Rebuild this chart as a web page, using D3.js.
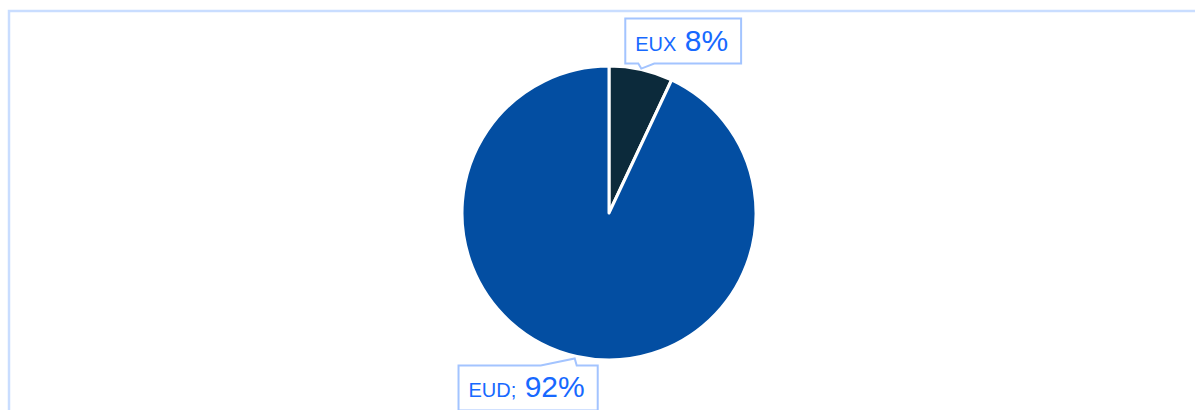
<!DOCTYPE html>
<meta charset="utf-8">
<style>
body { margin: 0; background: #fff; }
svg { display: block; font-family: "Liberation Sans", Arial, sans-serif; }
</style>
<svg width="1195" height="410"></svg>
<script src="https://d3js.org/d3.v7.min.js"></script>
<script>
"use strict";

// data
var names = ["EUX", "EUD"];
var shares = [7, 93];            // slice sizes as drawn
var pctLabels = ["8%", "92%"];   // labels as printed
var separators = ["", ";"];
var colors = ["#0c2a3b", "#034ea2"];

var svg = d3.select("svg"),
    width = +svg.attr("width"),
    height = +svg.attr("height");

// frame (only top + left edges visible)
svg.append("path")
  .attr("d", "M9,410 V11 H1195")
  .attr("fill", "none")
  .attr("stroke", "#c9ddff")
  .attr("stroke-width", 2.5);

var cx = 609, cy = 213, r = 147;

var pie = d3.pie().sort(null).value(function(d) { return d; });
var arc = d3.arc().innerRadius(0).outerRadius(r);
var arcs = pie(shares);

var g = svg.append("g").attr("transform", "translate(" + cx + "," + cy + ")");

g.selectAll("path.slice")
  .data(arcs)
  .enter().append("path")
    .attr("class", "slice")
    .attr("d", arc)
    .attr("fill", function(d, i) { return colors[i]; })
    .attr("stroke", "#fff")
    .attr("stroke-width", 3)
    .attr("stroke-linejoin", "round");

// callouts
var labels = svg.append("g");

arcs.forEach(function(d, i) {
  var mid = (d.startAngle + d.endAngle) / 2;
  var tx = cx + Math.sin(mid) * (r + 1),
      ty = cy - Math.cos(mid) * (r + 1);
  var below = Math.cos(mid) < 0;

  var lg = labels.append("g");
  var txt = lg.append("text").attr("fill", "#1769ff");
  txt.append("tspan").attr("font-size", 20).text(names[i] + separators[i]);
  txt.append("tspan").attr("font-size", 30).text(" " + pctLabels[i]);

  var w = txt.node().getComputedTextLength() + 23;
  var h = 45;
  var x0, y0, p;
  if (!below) {
    x0 = tx - 16; y0 = ty - 5 - h;
    var yb = y0 + h;
    p = [[x0, y0], [x0 + w, y0], [x0 + w, yb], [tx + 13, yb], [tx, ty], [tx - 3, yb], [x0, yb]];
  } else {
    x0 = tx + 21 - w; y0 = ty + 8;
    p = [[x0, y0], [tx - 36, y0], [tx - 2, ty + 1], [tx, y0], [x0 + w, y0], [x0 + w, y0 + h], [x0, y0 + h]];
  }
  lg.insert("path", "text")
    .attr("d", d3.line()(p) + "Z")
    .attr("fill", "#fff")
    .attr("stroke", "#a3c4ff")
    .attr("stroke-width", 2);
  txt.attr("x", x0 + 10).attr("y", y0 + 32);
});
</script>
